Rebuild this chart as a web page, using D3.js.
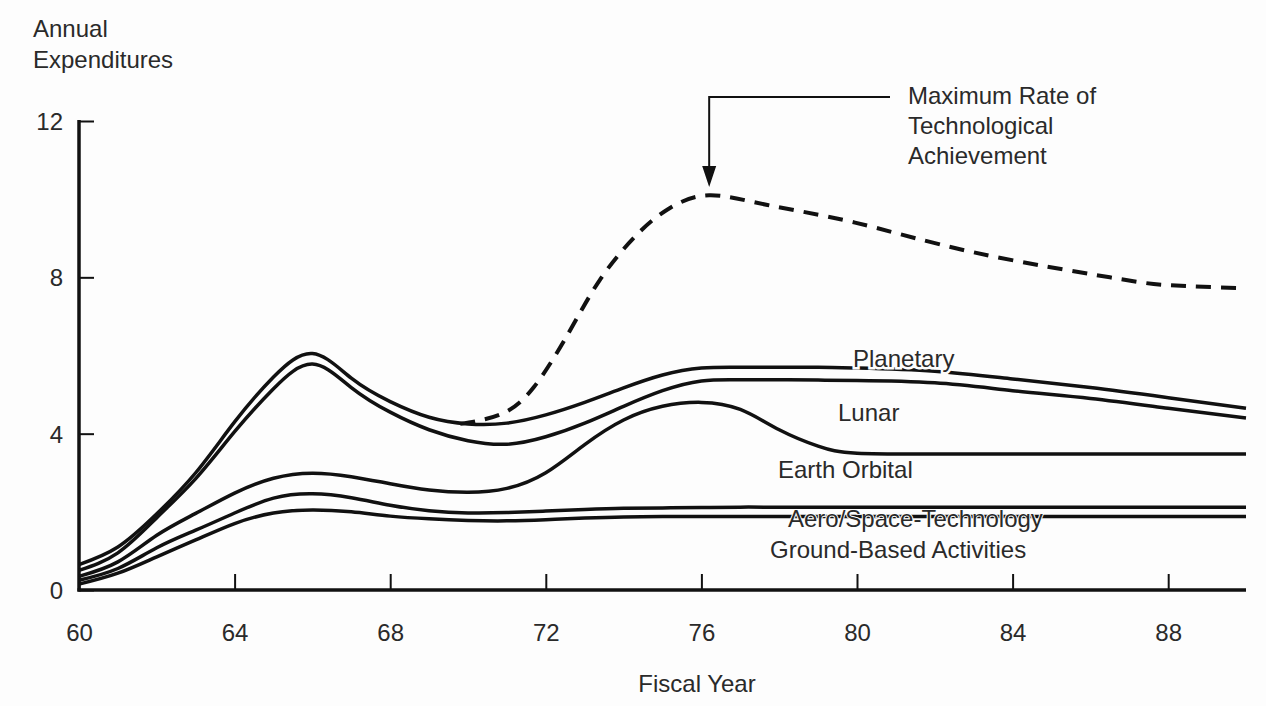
<!DOCTYPE html>
<html>
<head>
<meta charset="utf-8">
<script src="https://cdn.jsdelivr.net/npm/d3@7"></script>
<style>
  html, body { margin: 0; padding: 0; background: #fdfdfd; }
  svg { display: block; font-family: "Liberation Sans", Arial, Helvetica, sans-serif; }
</style>
</head>
<body>
<svg id="chart"></svg>
<script>
// fiscal years sampled for the five stacked program curves
const years = [60, 61, 62, 63, 64, 65, 66, 67, 68, 69, 70, 71, 72, 73, 74, 75, 76, 77, 78, 79, 80, 82, 84, 86, 88, 90];

// cumulative annual expenditures (top edge of each program band)
const planetary = [0.65, 1.1, 1.95, 3.0, 4.3, 5.45, 6.05, 5.42, 4.82, 4.42, 4.25, 4.27, 4.48, 4.8, 5.17, 5.5, 5.68, 5.7, 5.7, 5.7, 5.68, 5.6, 5.4, 5.18, 4.92, 4.65];
const lunar = [0.5, 0.95, 1.85, 2.85, 4.05, 5.15, 5.78, 5.18, 4.55, 4.1, 3.82, 3.73, 3.92, 4.27, 4.7, 5.1, 5.35, 5.38, 5.38, 5.37, 5.36, 5.3, 5.1, 4.9, 4.65, 4.4];
const earthOrbital = [0.35, 0.72, 1.4, 1.96, 2.48, 2.86, 2.99, 2.9, 2.72, 2.56, 2.5, 2.6, 3.0, 3.72, 4.35, 4.7, 4.8, 4.62, 4.1, 3.68, 3.5, 3.48, 3.48, 3.48, 3.48, 3.48];
const aeroSpace = [0.25, 0.55, 1.08, 1.53, 1.97, 2.35, 2.46, 2.36, 2.17, 2.03, 1.97, 1.98, 2.02, 2.06, 2.09, 2.1, 2.11, 2.12, 2.12, 2.12, 2.12, 2.12, 2.12, 2.12, 2.12, 2.12];
const groundBased = [0.15, 0.43, 0.85, 1.28, 1.7, 1.97, 2.05, 2.0, 1.89, 1.82, 1.78, 1.77, 1.8, 1.84, 1.87, 1.88, 1.88, 1.88, 1.88, 1.88, 1.88, 1.88, 1.88, 1.88, 1.88, 1.88];

// maximum rate of technological achievement (dashed)
const maxYears = [69.8, 70.85, 71.7, 72.6, 73.4, 74.3, 75.15, 76.2, 77.7, 79.95, 83, 86.5, 88, 90];
const maxRate = [4.25, 4.5, 5.2, 6.6, 7.95, 9.05, 9.75, 10.1, 9.85, 9.4, 8.64, 8.0, 7.8, 7.72];

const xTicks = [60, 64, 68, 72, 76, 80, 84, 88];
const yTicks = [0, 4, 8, 12];

const seriesNames = ["Planetary", "Lunar", "Earth Orbital", "Aero/Space-Technology", "Ground-Based Activities"];
const seriesValues = [planetary, lunar, earthOrbital, aeroSpace, groundBased];

const width = 1266;
const height = 706;
const ink = "#111";
const textColor = "#2a2a2a";
const fontSize = 24;

const svg = d3.select("#chart")
    .attr("width", width)
    .attr("height", height)
    .attr("viewBox", [0, 0, width, height]);

const x = d3.scaleLinear().domain([60, 90]).range([79, 1246]);
const y = d3.scaleLinear().domain([0, 12]).range([590, 121]);

const line = d3.line()
    .x(d => x(d[0]))
    .y(d => y(d[1]))
    .curve(d3.curveNatural);

// axes: drawn with d3.axis, then restyled to look like the print
const xAxis = svg.append("g")
    .attr("transform", `translate(0,${y(0)})`)
    .call(d3.axisBottom(x).tickValues(xTicks).tickSize(-16).tickPadding(0).tickFormat(d3.format("d")));
xAxis.select(".domain").remove();
xAxis.selectAll(".tick line").attr("stroke", ink).attr("stroke-width", 2);
xAxis.selectAll(".tick text")
    .attr("y", 51)
    .attr("dy", 0)
    .attr("fill", textColor)
    .style("font-size", `${fontSize}px`)
    .style("font-family", "Liberation Sans, Arial, sans-serif");

const yAxis = svg.append("g")
    .attr("transform", `translate(${x(60)},0)`)
    .call(d3.axisLeft(y).tickValues(yTicks).tickSize(-15).tickPadding(0));
yAxis.select(".domain").remove();
yAxis.selectAll(".tick line").attr("stroke", ink).attr("stroke-width", 2);
yAxis.selectAll(".tick text")
    .attr("x", -16)
    .attr("dy", "0.36em")
    .attr("fill", textColor)
    .style("font-size", `${fontSize}px`)
    .style("font-family", "Liberation Sans, Arial, sans-serif");

// axis lines themselves
svg.append("line")
    .attr("x1", x(60)).attr("x2", x(60))
    .attr("y1", y(12) - 1).attr("y2", y(0) + 1.5)
    .attr("stroke", ink).attr("stroke-width", 3.5);
svg.append("line")
    .attr("x1", x(60) - 1.5).attr("x2", x(90))
    .attr("y1", y(0)).attr("y2", y(0))
    .attr("stroke", ink).attr("stroke-width", 3.5);

// dashed curve first so the solid planetary curve covers its start
svg.append("path")
    .datum(maxYears.map((yr, i) => [yr, maxRate[i]]))
    .attr("d", line)
    .attr("fill", "none")
    .attr("stroke", ink)
    .attr("stroke-width", 4)
    .attr("stroke-dasharray", "15 10");

svg.append("g")
    .selectAll("path")
    .data(seriesValues)
    .join("path")
    .attr("d", vals => line(years.map((yr, i) => [yr, vals[i]])))
    .attr("fill", "none")
    .attr("stroke", ink)
    .attr("stroke-width", 3.5);

// band labels
const labelPos = [
    {x: 853, y: 367, halo: 5},
    {x: 838, y: 421, halo: 0},
    {x: 778, y: 478, halo: 0},
    {x: 788, y: 527, halo: 2},
    {x: 770, y: 558, halo: 0}
];

svg.append("g")
    .selectAll("text")
    .data(seriesNames)
    .join("text")
    .attr("x", (d, i) => labelPos[i].x)
    .attr("y", (d, i) => labelPos[i].y)
    .attr("fill", textColor)
    .attr("stroke", "#fdfdfd")
    .attr("stroke-width", (d, i) => labelPos[i].halo)
    .attr("paint-order", "stroke")
    .style("font-size", `${fontSize}px`)
    .text(d => d);

// axis titles
svg.append("g")
    .selectAll("text")
    .data(["Annual", "Expenditures"])
    .join("text")
    .attr("x", 33)
    .attr("y", (d, i) => 37 + i * 31)
    .attr("fill", textColor)
    .style("font-size", `${fontSize}px`)
    .text(d => d);

svg.append("text")
    .attr("x", 697)
    .attr("y", 692)
    .attr("text-anchor", "middle")
    .attr("fill", textColor)
    .style("font-size", `${fontSize}px`)
    .text("Fiscal Year");

// annotation with elbow arrow pointing at the dashed peak
const peakX = x(76.2);
svg.append("path")
    .attr("d", `M890,97 H${peakX} V170`)
    .attr("fill", "none")
    .attr("stroke", ink)
    .attr("stroke-width", 2);
svg.append("path")
    .attr("d", `M${peakX - 7},166 L${peakX + 7},166 L${peakX},187 Z`)
    .attr("fill", ink);

svg.append("g")
    .selectAll("text")
    .data(["Maximum Rate of", "Technological", "Achievement"])
    .join("text")
    .attr("x", 908)
    .attr("y", (d, i) => 104 + i * 30)
    .attr("fill", textColor)
    .style("font-size", `${fontSize}px`)
    .text(d => d);
</script>
</body>
</html>
